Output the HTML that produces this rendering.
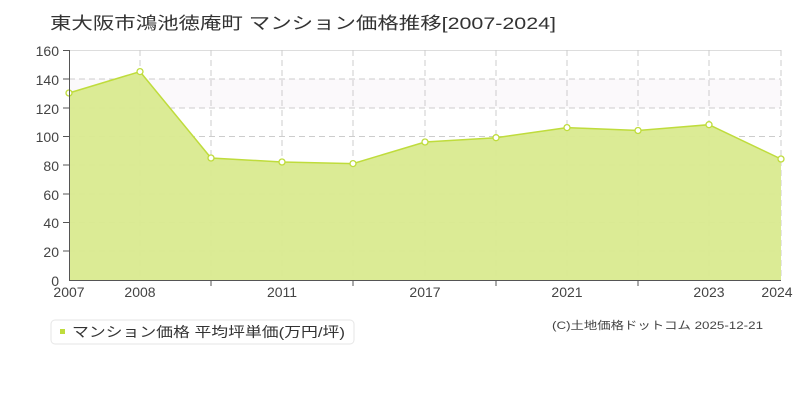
<!DOCTYPE html>
<html><head><meta charset="utf-8"><style>
body{margin:0;background:#fff;width:800px;height:400px;overflow:hidden;font-family:"Liberation Sans","Noto Sans CJK JP",sans-serif;}
</style></head><body>
<svg width="800" height="400" xmlns="http://www.w3.org/2000/svg" font-family="'Liberation Sans','Noto Sans CJK JP',sans-serif">
<text x="50" y="29" font-size="17" fill="#333" textLength="506" lengthAdjust="spacingAndGlyphs">東大阪市鴻池徳庵町 マンション価格推移[2007-2024]</text>
<rect x="69" y="79" width="712" height="29" fill="#fbf9fb"/>
<g stroke="#ccc" stroke-dasharray="6,4" stroke-width="1">
<line x1="69" y1="50.5" x2="781" y2="50.5" stroke-dasharray="none" stroke="#ddd"/>
<line x1="69" y1="79" x2="781" y2="79"/><line x1="69" y1="108" x2="781" y2="108"/>
<line x1="69" y1="136.5" x2="781" y2="136.5"/><line x1="69" y1="165" x2="781" y2="165"/>
<line x1="69" y1="194" x2="781" y2="194"/><line x1="69" y1="222.5" x2="781" y2="222.5"/>
<line x1="69" y1="251" x2="781" y2="251"/>
<line x1="140" y1="50" x2="140" y2="280"/><line x1="211" y1="50" x2="211" y2="280"/>
<line x1="282" y1="50" x2="282" y2="280"/><line x1="353" y1="50" x2="353" y2="280"/>
<line x1="425" y1="50" x2="425" y2="280"/><line x1="496" y1="50" x2="496" y2="280"/>
<line x1="567" y1="50" x2="567" y2="280"/><line x1="638" y1="50" x2="638" y2="280"/>
<line x1="709" y1="50" x2="709" y2="280"/><line x1="781" y1="50" x2="781" y2="280"/>
</g>
<polygon points="69,93 140,71.6 211,158 282,162 353,163.6 425,142 496,137.7 567,127.6 638,130.5 709,124.7 781,159 781,280 69,280" fill="#d9ea8f" fill-opacity="0.95"/>
<polyline points="69,93 140,71.6 211,158 282,162 353,163.6 425,142 496,137.7 567,127.6 638,130.5 709,124.7 781,159" fill="none" stroke="#bfdc3c" stroke-width="1.5"/>
<g fill="#fff" stroke="#bfdc3c" stroke-width="1.3">
<circle cx="69" cy="93" r="3"/><circle cx="140" cy="71.6" r="3"/><circle cx="211" cy="158" r="3"/><circle cx="282" cy="162" r="3"/><circle cx="353" cy="163.6" r="3"/><circle cx="425" cy="142" r="3"/><circle cx="496" cy="137.7" r="3"/><circle cx="567" cy="127.6" r="3"/><circle cx="638" cy="130.5" r="3"/><circle cx="709" cy="124.7" r="3"/><circle cx="781" cy="159" r="3"/>
</g>
<g stroke="#555" stroke-width="1">
<line x1="69.5" y1="50" x2="69.5" y2="280"/><line x1="69" y1="280.5" x2="781" y2="280.5"/>
<line x1="63" y1="50.5" x2="69" y2="50.5"/><line x1="63" y1="79" x2="69" y2="79"/><line x1="63" y1="108" x2="69" y2="108"/><line x1="63" y1="136.5" x2="69" y2="136.5"/><line x1="63" y1="165" x2="69" y2="165"/><line x1="63" y1="194" x2="69" y2="194"/><line x1="63" y1="222.5" x2="69" y2="222.5"/><line x1="63" y1="251" x2="69" y2="251"/>
<line x1="211" y1="280" x2="211" y2="286"/><line x1="353" y1="280" x2="353" y2="286"/><line x1="496" y1="280" x2="496" y2="286"/><line x1="638" y1="280" x2="638" y2="286"/>
</g>
<g font-size="14" fill="#444" text-anchor="end">
<text x="59" y="56">160</text><text x="59" y="85">140</text><text x="59" y="114">120</text><text x="59" y="142">100</text><text x="59" y="171">80</text><text x="59" y="200">60</text><text x="59" y="228">40</text><text x="59" y="257">20</text><text x="59" y="286">0</text>
</g>
<g font-size="14" fill="#444" text-anchor="middle">
<text x="69" y="297">2007</text><text x="140" y="297">2008</text><text x="282" y="297">2011</text><text x="425" y="297">2017</text><text x="567" y="297">2021</text><text x="709" y="297">2023</text><text x="777" y="297">2024</text>
</g>
<rect x="51" y="320" width="303" height="24" rx="4" fill="#fff" stroke="#e6e6e6"/>
<rect x="60" y="329" width="5" height="5" fill="#bfdc3c"/>
<text x="72" y="337" font-size="14" fill="#333" textLength="273" lengthAdjust="spacingAndGlyphs">マンション価格 平均坪単価(万円/坪)</text>
<text x="552" y="329" font-size="11" fill="#444" textLength="211" lengthAdjust="spacingAndGlyphs">(C)土地価格ドットコム 2025-12-21</text>
</svg>
</body></html>
